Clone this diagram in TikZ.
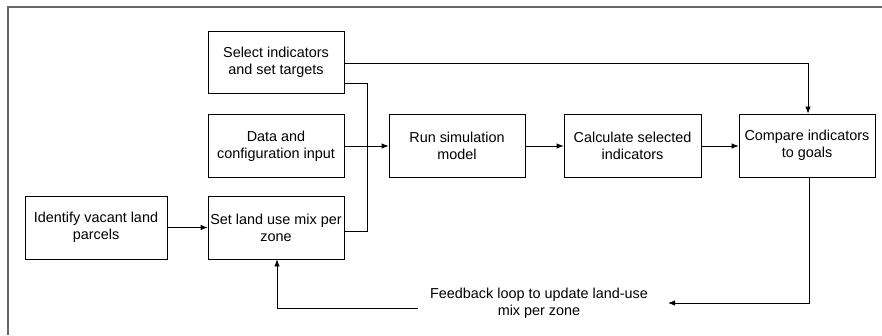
\documentclass[tikz,border=0pt]{standalone}
\usepackage{fontspec}
\setmainfont{Liberation Sans}
\usetikzlibrary{arrows.meta}
\begin{document}
\begin{tikzpicture}[x=1pt,y=-1pt,
  every node/.style={font=\fontsize{14.4}{17}\selectfont},
  box/.style={draw=black,line width=0.8pt,rectangle,align=center,inner sep=0pt,minimum width=136pt,minimum height=63pt},
  conn/.style={draw=black,line width=0.8pt},
  arr/.style={conn,-{Latex[length=7pt,width=5.5pt]}}]
\useasboundingbox (0,0) rectangle (882,335);
\draw[black!60,line width=1.6pt] (882,7) -- (8,7) -- (8,335);
\node[box,minimum height=62pt] (sel) at (276,62) {Select indicators\\and set targets};
\node[box] (dat) at (276,146) {Data and\\configuration input};
\node[box] (set) at (276,227.5) {Set land use mix per\\zone};
\node[box,minimum width=142pt] (ide) at (96,227.5) {Identify vacant land\\parcels};
\node[box] (run) at (457,146) {Run simulation\\model};
\node[box,minimum width=137pt] (cal) at (632.5,146) {Calculate selected\\indicators};
\node[box] (cmp) at (807,145.5) {Compare indicators\\to goals};
\node[inner sep=0pt,align=center] (fb) at (539,303.5) {Feedback loop to update land-use\\mix per zone};
\coordinate (fbin) at (668,303);
\coordinate (fbout) at (418,308);
\draw[arr] ([yshift=-1pt]sel.east) -| ([xshift=1pt]cmp.north);
\draw[conn] ([yshift=-21pt]sel.east) -- ++(23,0) |- ([yshift=-3.5pt]set.east);
\draw[arr] (dat.east) -- (run.west);
\draw[arr] (run.east) -- (cal.west);
\draw[arr] (cal.east) -- ([yshift=-0.5pt]cmp.west);
\draw[arr] (ide.east) -- (set.west);
\draw[arr] ([xshift=2pt]cmp.south) |- (fbin);
\draw[arr] (fbout) -| ([xshift=1pt]set.south);
\end{tikzpicture}
\end{document}
